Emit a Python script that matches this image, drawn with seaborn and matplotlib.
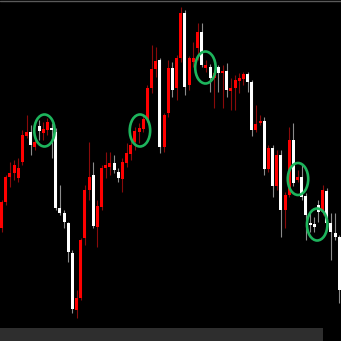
import numpy as np
import pandas as pd
import matplotlib
matplotlib.use("Agg")
import matplotlib.pyplot as plt
import seaborn as sns
from matplotlib.patches import Ellipse, Rectangle

opens = [122, 148, 173, 177, 172, 188, 214, 218, 203, 224, 217, 220, 222, 218, 142, 137, 127, 97, 40, 52,
         112, 160, 175, 123, 143, 182, 183, 187, 178, 171, 187, 196, 208, 218, 221, 230, 262, 281, 290, 203,
         237, 282, 262, 292, 337, 265, 288, 302, 318, 282, 283, 272, 283, 277, 279, 259, 262, 269, 271, 276,
         268, 220, 227, 229, 181, 202, 164, 195, 140, 155, 210, 170, 173, 154, 127, 126, 145, 138, 159, 127,
         117, 113]
closes = [148, 173, 177, 185, 182, 215, 218, 205, 208, 219, 221, 228, 220, 142, 137, 128, 98, 41, 52, 110,
          160, 173, 124, 144, 182, 185, 187, 180, 172, 188, 197, 205, 219, 222, 231, 262, 281, 289, 203, 235,
          282, 260, 292, 337, 263, 292, 292, 318, 285, 285, 272, 277, 277, 279, 260, 262, 270, 272, 276, 268,
          220, 226, 229, 181, 202, 164, 195, 140, 155, 210, 167, 173, 153, 135, 125, 123, 138, 160, 127, 118,
          113, 60]
highs = [150, 175, 188, 190, 192, 220, 235, 225, 215, 230, 228, 232, 227, 222, 165, 140, 128, 100, 60, 112,
         165, 208, 188, 150, 185, 198, 198, 195, 182, 192, 207, 210, 223, 227, 235, 265, 305, 303, 292, 237,
         290, 288, 295, 343, 340, 294, 308, 327, 327, 290, 286, 280, 285, 285, 287, 272, 275, 277, 278, 278,
         270, 245, 235, 233, 205, 205, 200, 200, 158, 223, 227, 180, 185, 157, 137, 133, 150, 165, 162, 137,
         137, 115]
lows = [118, 145, 163, 170, 168, 185, 212, 195, 200, 210, 210, 215, 192, 140, 135, 122, 88, 37, 32, 50,
        105, 150, 122, 103, 140, 172, 175, 177, 168, 158, 183, 190, 200, 207, 218, 228, 257, 273, 197, 198,
        233, 253, 250, 288, 255, 260, 283, 290, 283, 278, 258, 242, 258, 242, 253, 240, 240, 257, 265, 258,
        214, 218, 225, 175, 178, 153, 160, 113, 122, 153, 164, 168, 150, 110, 118, 118, 128, 135, 125, 90,
        110, 47]

# highlighted candle clusters (index, price)
mark_x = [10.3, 33.2, 48.9, 71.1, 75.7]
mark_y = [219.5, 219.5, 282.5, 171.0, 125.5]

df = pd.DataFrame({"open": opens, "close": closes, "high": highs, "low": lows})
df["idx"] = np.arange(len(df))
df["up"] = df["close"] >= df["open"]
df["bottom"] = df[["open", "close"]].min(axis=1)
df["body"] = (df["close"] - df["open"]).abs().clip(lower=1.5)

sns.set_style("dark", {"axes.facecolor": "black", "figure.facecolor": "black",
                       "axes.edgecolor": "black"})

fig = plt.figure(figsize=(3.41, 3.41), dpi=100)
ax = fig.add_axes([0, 0, 1, 1])
ax.set_facecolor("black")

wick_cols = np.where(df["up"], "#8a0a0a", "#8c8c8c")
body_cols = np.where(df["up"], "#ff0000", "#ffffff")

ax.vlines(df["idx"], df["low"], df["high"], colors=wick_cols, linewidth=0.8, zorder=1)
ax.bar(df["idx"], df["body"], bottom=df["bottom"], width=0.72, color=body_cols,
       linewidth=0, zorder=2)

for mx, my in zip(mark_x, mark_y):
    ax.add_patch(Ellipse((mx, my), width=4.9, height=32, fill=False,
                         edgecolor="#1db45c", linewidth=1.9, zorder=3))

ax.set_xlim(-0.36, 81.41)
ax.set_ylim(9, 350)

ax.add_patch(Rectangle((0, 0), 323 / 341, 13 / 341, transform=ax.transAxes,
                       facecolor="#2e2e2e", edgecolor="none", zorder=4))
ax.plot([0, 1], [0.998, 0.998], transform=ax.transAxes, color="#5a5a5a",
        linewidth=1, zorder=4)

ax.set_xticks([])
ax.set_yticks([])
for s in ax.spines.values():
    s.set_visible(False)

fig.savefig("out.png", dpi=100, facecolor="black")
